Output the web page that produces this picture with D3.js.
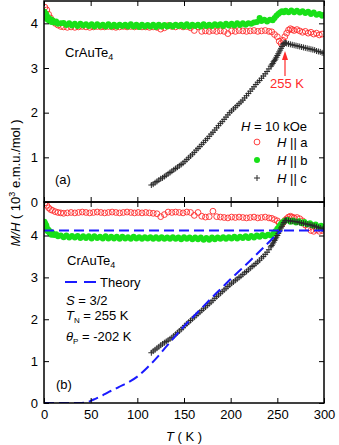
<!DOCTYPE html>
<html>
<head>
<meta charset="utf-8">
<script src="https://cdn.jsdelivr.net/npm/d3@7"></script>
<style>
body { margin: 0; background: #fff; }
text { font-family: "Liberation Sans", Arial, Helvetica, sans-serif; font-size: 13px; fill: #000; }
</style>
</head>
<body>
<div id="chart"></div>
<script>

// ---- data (T in K, M/H in 10^-3 emu/mol) ----
// panel (a), H || a
var redA = [[1,4.36],[3,4.3],[5,4.2],[7,4.12],[9,4.06],[12,4.0],[15,3.96],[18,3.93],[21,3.92],[25,3.91],[29,3.92],[33,3.91],[37,3.92],[41,3.93],[45,3.92],[49,3.91],[53,3.92],[57,3.93],[61,3.92],[65,3.92],[69,3.93],[73,3.92],[77,3.91],[81,3.92],[85,3.93],[89,3.92],[93,3.93],[97,3.92],[101,3.93],[105,3.92],[109,3.92],[113,3.91],[117,3.92],[121,3.91],[125,3.87],[129,3.9],[133,3.95],[137,3.93],[141,3.92],[145,3.94],[149,3.92],[153,3.93],[157,3.9],[161,3.84],[165,3.92],[169,3.82],[173,3.83],[177,3.82],[181,3.84],[185,3.82],[189,3.83],[193,3.82],[197,3.77],[201,3.83],[205,3.82],[209,3.84],[213,3.83],[217,3.82],[221,3.83],[225,3.84],[229,3.82],[233,3.83],[237,3.84],[241,3.82],[244,3.81],[247,3.75],[250,3.7],[252,3.6],[254,3.55],[256,3.62],[258,3.7],[260,3.78],[262,3.85],[264,3.88],[266,3.86],[268,3.84],[271,3.86],[274,3.83],[277,3.8],[280,3.82],[283,3.78],[286,3.8],[289,3.76],[292,3.78],[295,3.74],[298,3.76]];

// panel (a), H || b
var greenA = [[0.5,4.26],[1,4.18],[1.5,4.22],[2,4.12],[2.5,4.2],[3.5,4.15],[4,4.08],[5,4.12],[6,4.05],[7,4.09],[8,4.03],[9,4.07],[11,4.02],[13,4.04],[15,3.99],[18,4.0],[21,4.01],[24,3.96],[27,4.0],[30,3.95],[33,3.99],[36,3.94],[39,3.99],[42,3.95],[45,3.98],[48,3.94],[51,3.98],[54,3.93],[57,3.98],[60,3.94],[63,3.97],[66,3.93],[69,3.98],[72,3.93],[75,3.97],[78,3.93],[81,3.97],[84,3.94],[87,3.97],[90,3.93],[93,3.98],[96,3.93],[99,3.97],[102,3.92],[105,3.97],[108,3.93],[111,3.96],[114,3.93],[117,3.97],[120,3.92],[123,3.97],[126,3.93],[129,3.96],[132,3.93],[135,3.96],[138,3.93],[141,3.97],[144,3.94],[147,3.97],[150,3.93],[153,3.98],[156,3.93],[159,3.97],[162,3.94],[165,3.97],[168,3.93],[171,3.98],[174,3.94],[177,3.97],[180,3.94],[183,3.98],[186,3.95],[189,3.98],[192,3.94],[195,3.99],[198,3.95],[201,3.99],[204,3.95],[207,4.0],[210,3.96],[213,4.0],[216,3.97],[219,4.0],[222,3.99],[225,4.02],[228,4.03],[231,4.12],[233,4.05],[236,4.08],[239,4.04],[242,4.08],[245,4.07],[247,4.12],[249,4.17],[251,4.21],[253,4.24],[255,4.27],[257,4.25],[259,4.28],[262,4.25],[265,4.29],[268,4.25],[271,4.28],[274,4.24],[277,4.27],[280,4.23],[283,4.26],[286,4.21],[289,4.24],[292,4.19],[295,4.21],[298,4.17],[300,4.19]];

// panel (a), H || c
var crossA = [[115,0.38],[117,0.4],[119,0.43],[121,0.46],[123,0.49],[125,0.52],[127,0.54],[129,0.57],[131,0.6],[133,0.63],[135,0.66],[137,0.69],[139,0.72],[141,0.75],[143,0.78],[145,0.81],[147,0.84],[149,0.87],[151,0.91],[153,0.95],[155,0.99],[157,1.03],[159,1.07],[161,1.11],[163,1.16],[165,1.2],[167,1.24],[169,1.29],[171,1.33],[173,1.38],[175,1.42],[177,1.47],[179,1.52],[181,1.56],[183,1.61],[185,1.66],[187,1.71],[189,1.76],[191,1.8],[193,1.85],[195,1.9],[197,1.95],[199,2.0],[201,2.04],[203,2.08],[205,2.12],[207,2.16],[209,2.2],[211,2.24],[213,2.28],[215,2.33],[217,2.38],[219,2.43],[221,2.48],[223,2.53],[225,2.58],[227,2.63],[229,2.68],[231,2.72],[233,2.77],[235,2.82],[237,2.87],[239,2.92],[241,2.98],[243,3.04],[244,3.07],[245,3.1],[246,3.14],[247,3.17],[248,3.2],[249,3.24],[250,3.28],[251,3.32],[252,3.36],[253,3.4],[254,3.44],[255,3.48],[256,3.52],[257,3.55],[258,3.56],[259,3.56],[260,3.55],[262,3.54],[264,3.53],[266,3.52],[268,3.51],[270,3.5],[272,3.49],[274,3.48],[276,3.47],[278,3.46],[280,3.45],[282,3.44],[284,3.43],[286,3.42],[288,3.41],[290,3.4],[292,3.38],[294,3.37],[296,3.36],[298,3.34],[300,3.33]];

// panel (b), H || a
var redB = [[1,4.78],[3,4.72],[5,4.66],[7,4.62],[9,4.6],[12,4.57],[15,4.55],[18,4.54],[21,4.53],[25,4.54],[29,4.55],[33,4.54],[37,4.55],[41,4.56],[45,4.55],[49,4.54],[53,4.55],[57,4.56],[61,4.55],[65,4.54],[69,4.55],[73,4.56],[77,4.55],[81,4.54],[85,4.55],[89,4.56],[93,4.55],[97,4.54],[101,4.55],[105,4.54],[109,4.55],[113,4.54],[117,4.53],[121,4.52],[125,4.45],[129,4.5],[133,4.56],[137,4.55],[141,4.56],[145,4.55],[149,4.54],[153,4.56],[157,4.55],[161,4.48],[165,4.55],[169,4.46],[173,4.44],[177,4.45],[181,4.58],[185,4.45],[189,4.44],[193,4.43],[197,4.42],[201,4.44],[205,4.43],[209,4.44],[213,4.43],[217,4.42],[221,4.43],[225,4.44],[229,4.42],[233,4.43],[237,4.44],[241,4.42],[244,4.41],[247,4.38],[250,4.35],[252,4.3],[254,4.25],[256,4.3],[258,4.36],[260,4.4],[262,4.44],[264,4.46],[266,4.44],[268,4.42],[271,4.43],[274,4.4],[277,4.35],[280,4.25],[283,4.18],[286,4.12],[289,4.1],[292,4.14],[295,4.1],[298,4.12]];

// panel (b), H || b
var greenB = [[0.5,4.33],[1,4.24],[1.5,4.28],[2,4.18],[2.5,4.24],[3.5,4.17],[4,4.1],[5,4.13],[6,4.06],[7,4.09],[8,4.02],[9,4.06],[11,4.01],[13,4.03],[15,3.98],[18,4.0],[21,3.96],[24,4.0],[27,3.95],[30,3.99],[33,3.95],[36,3.99],[39,3.94],[42,3.98],[45,3.94],[48,3.98],[51,3.93],[54,3.98],[57,3.94],[60,3.97],[63,3.93],[66,3.98],[69,3.93],[72,3.97],[75,3.93],[78,3.97],[81,3.92],[84,3.97],[87,3.93],[90,3.96],[93,3.92],[96,3.97],[99,3.93],[102,3.96],[105,3.92],[108,3.96],[111,3.93],[114,3.96],[117,3.92],[120,3.96],[123,3.92],[126,3.96],[129,3.92],[132,3.95],[135,3.92],[138,3.96],[141,3.92],[144,3.95],[147,3.91],[150,3.96],[153,3.92],[156,3.95],[159,3.91],[162,3.95],[165,3.91],[168,3.95],[171,3.9],[174,3.94],[177,3.9],[180,3.95],[183,3.91],[186,3.95],[189,3.92],[192,3.96],[195,3.92],[198,3.96],[201,3.93],[204,3.97],[207,3.93],[210,3.97],[213,3.94],[216,3.98],[219,3.94],[222,3.99],[225,3.95],[228,4.0],[231,3.97],[234,4.01],[237,3.98],[240,4.02],[243,4.0],[246,4.05],[248,4.1],[250,4.16],[252,4.22],[254,4.28],[256,4.32],[258,4.35],[261,4.37],[264,4.33],[267,4.36],[270,4.31],[273,4.34],[276,4.29],[279,4.32],[282,4.27],[285,4.29],[288,4.24],[291,4.26],[294,4.21],[297,4.23],[300,4.19]];

// panel (b), H || c
var crossB = [[115,1.2],[117,1.24],[119,1.27],[121,1.31],[123,1.34],[125,1.38],[127,1.41],[129,1.44],[131,1.47],[133,1.5],[135,1.53],[137,1.56],[139,1.6],[141,1.64],[143,1.68],[145,1.72],[147,1.76],[149,1.8],[151,1.85],[153,1.89],[155,1.93],[157,1.97],[159,2.01],[161,2.05],[163,2.09],[165,2.13],[167,2.17],[169,2.21],[171,2.25],[173,2.29],[175,2.33],[177,2.37],[179,2.41],[181,2.45],[183,2.5],[185,2.54],[187,2.58],[189,2.62],[191,2.66],[193,2.7],[195,2.74],[197,2.78],[199,2.82],[201,2.86],[203,2.89],[205,2.93],[207,2.96],[209,3.0],[211,3.03],[213,3.07],[215,3.11],[217,3.14],[219,3.18],[221,3.22],[223,3.26],[225,3.29],[227,3.33],[229,3.37],[231,3.41],[233,3.46],[235,3.5],[237,3.55],[239,3.6],[241,3.66],[243,3.73],[244,3.76],[245,3.8],[246,3.84],[247,3.88],[248,3.92],[249,3.96],[250,4.0],[251,4.05],[252,4.09],[253,4.13],[254,4.18],[255,4.22],[256,4.27],[257,4.31],[258,4.35],[259,4.36],[260,4.36],[262,4.36],[264,4.35],[266,4.34],[268,4.34],[270,4.33],[272,4.32],[274,4.31],[276,4.3],[278,4.29],[280,4.28],[282,4.27],[284,4.26],[286,4.25],[288,4.24],[290,4.22],[292,4.21],[294,4.19],[296,4.18],[298,4.16],[300,4.15]];

// theory curves (panel b)
var theoryPerp = [[0,4.12],[300,4.12]];
var theoryPar = [[0,0],[20,0],[40,0.002],[45,0.01],[50,0.05],[55,0.1],[60,0.15],[65,0.21],[70,0.27],[75,0.32],[80,0.38],[90,0.49],[100,0.63],[110,0.83],[120,1.06],[130,1.32],[140,1.58],[150,1.83],[160,2.06],[170,2.29],[180,2.52],[190,2.74],[200,2.96],[210,3.17],[220,3.38],[230,3.6],[240,3.82],[250,4.04],[255,4.12]];

var xTicks = [0, 50, 100, 150, 200, 250, 300];
var yTicks = [0, 1, 2, 3, 4];

// ---- layout ----
var width = 339, height = 445;
var left = 44, right = 324;
var topA = 1, mid = 202, bottomB = 403;

var svg = d3.select('#chart').append('svg')
    .attr('width', width)
    .attr('height', height);

var x = d3.scaleLinear().domain([0, 300]).range([left, right]);
var yA = d3.scaleLinear().domain([0, 4.5]).range([mid, topA]);
var yB = d3.scaleLinear().domain([0, 4.8]).range([bottomB, mid]);

var red = '#ff2a2a', green = '#18e018', blue = '#1a1aff';

var defs = svg.append('defs');
defs.append('clipPath').attr('id', 'clipA').append('rect')
    .attr('x', left).attr('y', topA).attr('width', right - left).attr('height', mid - topA);
defs.append('clipPath').attr('id', 'clipB').append('rect')
    .attr('x', left).attr('y', mid).attr('width', right - left).attr('height', bottomB - mid);

function drawData(clipId, y, reds, greens, crosses) {
  var g = svg.append('g').attr('clip-path', 'url(#' + clipId + ')');

  g.selectAll(null)
      .data(reds)
      .enter()
      .append('circle')
      .attr('cx', function(d) { return x(d[0]); })
      .attr('cy', function(d) { return y(d[1]); })
      .attr('r', 2.9)
      .attr('fill', 'none')
      .attr('stroke', red)
      .attr('stroke-width', 0.9);

  g.selectAll(null)
      .data(greens)
      .enter()
      .append('circle')
      .attr('cx', function(d) { return x(d[0]); })
      .attr('cy', function(d) { return y(d[1]); })
      .attr('r', 3)
      .attr('fill', green);

  g.selectAll(null)
      .data(crosses)
      .enter()
      .append('path')
      .attr('d', function(d) {
        var cx = x(d[0]), cy = y(d[1]);
        return 'M' + (cx - 3) + ',' + cy + 'H' + (cx + 3) + 'M' + cx + ',' + (cy - 3) + 'V' + (cy + 3);
      })
      .attr('stroke', '#2a2a2a')
      .attr('stroke-width', 1);

  return g;
}

drawData('clipA', yA, redA, greenA, crossA);
var gB = drawData('clipB', yB, redB, greenB, crossB);

// theory dashed lines
var line = d3.line()
    .x(function(d) { return x(d[0]); })
    .y(function(d) { return yB(d[1]); })
    .curve(d3.curveMonotoneX);

[theoryPerp, theoryPar].forEach(function(c) {
  gB.append('path')
      .datum(c)
      .attr('d', line)
      .attr('fill', 'none')
      .attr('stroke', blue)
      .attr('stroke-width', 2)
      .attr('stroke-dasharray', '10,5');
});

// ---- axes: inward ticks on all sides ----
function ticksOnly(axis) {
  return axis.tickSizeInner(-5).tickSizeOuter(0).tickFormat('');
}

function addAxes(y, yTop, yBottom, labelX) {
  svg.append('g').attr('transform', 'translate(' + left + ',0)')
      .call(d3.axisLeft(y).tickValues(yTicks).tickFormat(d3.format('d'))
        .tickSizeInner(-5).tickSizeOuter(0).tickPadding(6));
  svg.append('g').attr('transform', 'translate(' + right + ',0)')
      .call(ticksOnly(d3.axisRight(y).tickValues(yTicks)));
  svg.append('g').attr('transform', 'translate(0,' + yTop + ')')
      .call(ticksOnly(d3.axisTop(x).tickValues(xTicks)));
  var bottom = svg.append('g').attr('transform', 'translate(0,' + yBottom + ')');
  if (labelX) {
    bottom.call(d3.axisBottom(x).tickValues(xTicks).tickFormat(d3.format('d'))
      .tickSizeInner(-5).tickSizeOuter(0).tickPadding(7));
  } else {
    bottom.call(ticksOnly(d3.axisBottom(x).tickValues(xTicks)));
  }
}

addAxes(yA, topA, mid, false);
addAxes(yB, mid, bottomB, true);

svg.selectAll('.domain').remove();
svg.selectAll('.tick line').attr('stroke', '#000').attr('stroke-width', 1);
svg.selectAll('.tick text').attr('font-size', 13).style('font-family', '"Liberation Sans", Arial, sans-serif').attr('fill', '#000');

// panel frames
svg.append('rect')
    .attr('x', left).attr('y', topA).attr('width', right - left).attr('height', mid - topA)
    .attr('fill', 'none').attr('stroke', '#000').attr('stroke-width', 1.5);
svg.append('rect')
    .attr('x', left).attr('y', mid).attr('width', right - left).attr('height', bottomB - mid)
    .attr('fill', 'none').attr('stroke', '#000').attr('stroke-width', 1.5);

// ---- axis titles ----
var ylab = svg.append('text')
    .attr('transform', 'translate(20,183) rotate(-90)')
    .attr('text-anchor', 'middle');
ylab.append('tspan').style('font-style', 'italic').text('M/H');
ylab.append('tspan').text(' ( 10');
ylab.append('tspan').attr('dy', -5).style('font-size', '9px').text('3');
ylab.append('tspan').attr('dy', 5).text(' e.m.u./mol )');

var xlab = svg.append('text')
    .attr('x', 184).attr('y', 441)
    .attr('text-anchor', 'middle');
xlab.append('tspan').style('font-style', 'italic').text('T');
xlab.append('tspan').text(' ( K )');

// ---- panel (a) annotations ----
function formula(xp, yp) {
  var t = svg.append('text').attr('x', xp).attr('y', yp);
  t.append('tspan').text('CrAuTe');
  t.append('tspan').attr('dy', 3).style('font-size', '9px').text('4');
}

formula(65, 57);
svg.append('text').attr('x', 55).attr('y', 184).text('(a)');

svg.append('text').attr('x', 270).attr('y', 88).style('fill', red).text('255 K');
svg.append('line')
    .attr('x1', 285).attr('y1', 76).attr('x2', 285).attr('y2', 58)
    .attr('stroke', red).attr('stroke-width', 1.2);
svg.append('path')
    .attr('d', 'M285,51L282,60L288,60Z')
    .attr('fill', red);

// legend (a)
var h = svg.append('text').attr('x', 307).attr('y', 131).attr('text-anchor', 'end');
h.append('tspan').style('font-style', 'italic').text('H');
h.append('tspan').text(' = 10 kOe');

var legRows = [
  {label: 'a', y: 147},
  {label: 'b', y: 165},
  {label: 'c', y: 183}
];

legRows.forEach(function(r, i) {
  var t = svg.append('text').attr('x', 277).attr('y', r.y);
  t.append('tspan').style('font-style', 'italic').text('H');
  t.append('tspan').text(' || ' + r.label);
  var cy = r.y - 5;
  if (i === 0) {
    svg.append('circle').attr('cx', 257).attr('cy', cy).attr('r', 2.9)
        .attr('fill', 'none').attr('stroke', red).attr('stroke-width', 0.9);
  } else if (i === 1) {
    svg.append('circle').attr('cx', 257).attr('cy', cy).attr('r', 3).attr('fill', green);
  } else {
    svg.append('path')
        .attr('d', 'M254,' + cy + 'H260M257,' + (cy - 3) + 'V' + (cy + 3))
        .attr('stroke', '#2a2a2a').attr('stroke-width', 1);
  }
});

// ---- panel (b) annotations ----
formula(67, 265);

svg.append('line')
    .attr('x1', 65).attr('y1', 282).attr('x2', 96).attr('y2', 282)
    .attr('stroke', blue).attr('stroke-width', 2).attr('stroke-dasharray', '12,7');
svg.append('text').attr('x', 100).attr('y', 287).text('Theory');

var s = svg.append('text').attr('x', 66).attr('y', 305);
s.append('tspan').style('font-style', 'italic').text('S');
s.append('tspan').text(' = 3/2');

var tn = svg.append('text').attr('x', 66).attr('y', 320);
tn.append('tspan').style('font-style', 'italic').text('T');
tn.append('tspan').attr('dy', 3).style('font-size', '8px').text('N');
tn.append('tspan').attr('dy', -3).text(' = 255 K');

var tp = svg.append('text').attr('x', 66).attr('y', 341);
tp.append('tspan').style('font-style', 'italic').text('\u03b8');
tp.append('tspan').attr('dy', 3).style('font-size', '8px').text('P');
tp.append('tspan').attr('dy', -3).text(' = -202 K');

svg.append('text').attr('x', 56).attr('y', 389).text('(b)');

</script>
</body>
</html>
